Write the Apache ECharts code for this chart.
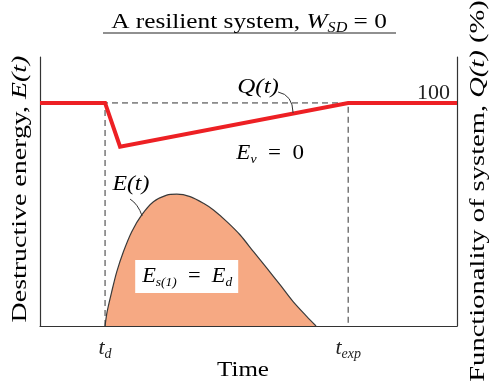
<!DOCTYPE html>
<html>
<head>
<meta charset="utf-8">
<script src="https://cdn.jsdelivr.net/npm/echarts@6/dist/echarts.min.js"></script>
<style>html,body{margin:0;padding:0;background:#fff}#c{width:489px;height:381px}</style>
</head>
<body>
<div id="c"></div>
<script>
// ---- data (schematic, time in arbitrary units 0..100, values in %) ----
const tD = 15.6;
const tExp = 73.9;
const timeTicks = [tD, tExp];
const timeTickLabels = ['{i|t}{s|d}', '{i|t}{s|exp}'];
const qTime = [0, tD, 19.2, tExp, 100];
const qValue = [100, 100, 80.4, 100, 100];
const eTime = [15.6, 16.1, 17.2, 18.4, 20.0, 22.0, 24.4, 27.2, 30.4, 32.8, 36.0, 39.2, 41.6, 44.8, 48.0, 51.2, 54.4, 57.6, 60.7, 64.0, 66.2];
const eValue = [0, 6.4, 15.4, 24.3, 33.3, 42.3, 49.8, 55.7, 58.7, 59.1, 58.0, 55.0, 52.0, 46.8, 40.8, 33.3, 25.9, 18.4, 10.9, 4.2, 0];
const qTicks = [100];
const qTickLabels = ['100'];
const yMax = 120.6;

const FONT = '"Liberation Serif", "DejaVu Serif", serif';
const INK = '#333';
const RED = '#ED2024';
const SALMON = '#F6A983';

const chart = echarts.init(document.getElementById('c'), null, {renderer: 'canvas'});

const subRich = (size) => ({
  n: {fontFamily: FONT, fontSize: size, color: '#222', lineHeight: size + 4},
  i: {fontFamily: FONT, fontSize: size, fontStyle: 'italic', color: '#222', lineHeight: size + 4},
  s: {fontFamily: FONT, fontSize: Math.round(size * 0.62), fontStyle: 'italic', color: '#222', lineHeight: Math.round(size * 0.62), verticalAlign: 'bottom'}
});

const pairs = (xs, ys) => xs.map((x, k) => [x, ys[k]]);

chart.setOption({
  animation: false,
  backgroundColor: '#fff',
  grid: {left: 40, right: 32, top: 57, bottom: 55, containLabel: false, outerBoundsMode: 'none'},
  xAxis: {
    type: 'value', min: 0, max: 100,
    axisLine: {show: true, lineStyle: {color: INK, width: 1.2}},
    axisTick: {show: false},
    splitLine: {show: false},
    axisLabel: {
      show: true, customValues: timeTicks, margin: 9,
      formatter: (v, idx) => timeTickLabels[timeTicks.indexOf(v) >= 0 ? timeTicks.indexOf(v) : idx],
      rich: subRich(22)
    }
  },
  yAxis: [
    {
      type: 'value', min: 0, max: yMax, position: 'left',
      axisLine: {show: true, lineStyle: {color: INK, width: 1.2}},
      axisTick: {show: false}, splitLine: {show: false}, axisLabel: {show: false}
    },
    {
      type: 'value', min: 0, max: yMax, position: 'right',
      axisLine: {show: true, lineStyle: {color: INK, width: 1.2}},
      axisTick: {show: false}, splitLine: {show: false},
      axisLabel: {
        show: true, inside: true, customValues: qTicks, margin: 7, verticalAlign: 'bottom',
        formatter: (v) => qTickLabels[qTicks.indexOf(v)] || '',
        fontFamily: FONT, fontSize: 22, color: '#222', lineHeight: 20
      }
    }
  ],
  series: [
    {
      name: 'E(t)', type: 'line', smooth: 0.3, symbol: 'none', z: 2,
      data: pairs(eTime, eValue),
      lineStyle: {color: '#3a3a3a', width: 1.2},
      areaStyle: {color: SALMON, opacity: 1}
    },
    {
      name: 'guides', type: 'line', symbol: 'none', z: 3,
      data: [[tD, 0], [tD, 100], [tExp, 100], [tExp, 0]],
      lineStyle: {color: INK, width: 1, type: [6, 4]}
    },
    {
      name: 'Q(t)', type: 'line', symbol: 'none', z: 4,
      data: pairs(qTime, qValue),
      lineStyle: {color: RED, width: 4, join: 'miter'}
    }
  ]
});

// ---- annotations anchored in data coordinates ----
const P = (x, y) => chart.convertToPixel({gridIndex: 0}, [x, y]);
const qLab = P(52.3, 106.7);
const qL0 = P(57.1, 104.9), qLc = P(60.6, 103.6), qL1 = P(60.7, 95.5);
const eLab = P(21.8, 63.2);
const eL0 = P(21.6, 56.9), eLc = P(23.5, 54.7), eL1 = P(24.5, 49.3);
const evLab = P(55.2, 77.1);
const boxC = P(35.3, 22.0);

const txt = (x, y, text, size, sx, extra) => Object.assign({
  type: 'text', x: x, y: y, scaleX: sx, scaleY: 1, z: 21,
  style: {text: text, rich: subRich(size), align: 'center', verticalAlign: 'middle'}
}, extra || {});

chart.setOption({
  graphic: [
    txt(249, 22, '{n|A resilient system, }{i|W}{s|SD}{n| = 0}', 22, 1.15),
    {type: 'line', shape: {x1: 103, y1: 33, x2: 396, y2: 33}, style: {stroke: '#222', lineWidth: 1.2}},
    txt(20, 189, '{n|Destructive energy, }{i|E(t)}', 21, 1.33, {rotation: Math.PI / 2}),
    txt(478, 191, '{n|Functionality of system, }{i|Q(t)}{n| (%)}', 21, 1.36, {rotation: Math.PI / 2}),
    txt(243, 370, '{n|Time}', 21, 1.19),
    txt(qLab[0], qLab[1], '{i|Q(t)}', 20, 1.25),
    {type: 'bezierCurve', shape: {x1: qL0[0], y1: qL0[1], cpx1: qLc[0], cpy1: qLc[1], x2: qL1[0], y2: qL1[1]}, style: {stroke: '#333', lineWidth: 1, fill: null}, z: 10},
    txt(eLab[0], eLab[1], '{i|E(t)}', 20, 1.19),
    {type: 'bezierCurve', shape: {x1: eL0[0], y1: eL0[1], cpx1: eLc[0], cpy1: eLc[1], x2: eL1[0], y2: eL1[1]}, style: {stroke: '#333', lineWidth: 1, fill: null}, z: 10},
    txt(evLab[0], evLab[1], '{i|E}{s|v}{n|  =  0}', 20, 1.15),
    {type: 'rect', shape: {x: boxC[0] - 52, y: boxC[1] - 17, width: 103, height: 33}, style: {fill: '#fff'}, z: 20},
    txt(boxC[0], boxC[1], '{i|E}{s|s(1)}{n|  =  }{i|E}{s|d}', 20, 1.12)
  ]
});
</script>
</body>
</html>
